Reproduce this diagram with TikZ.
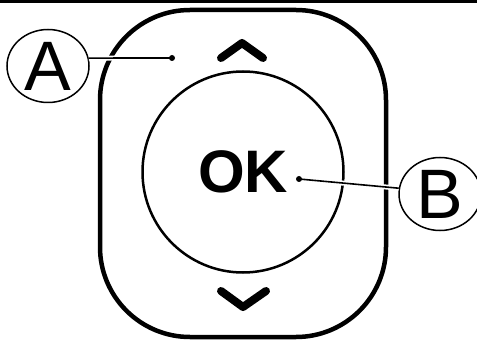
\documentclass[tikz,border=0pt]{standalone}
\usepackage{fontspec}
\setmainfont{Liberation Sans}
\usetikzlibrary{shapes.geometric}

\begin{document}
\begin{tikzpicture}[
  x=1pt, y=-1pt,
  padbox/.style={
    rectangle, rounded corners=90pt,
    draw=black, line width=4.5pt,
    minimum width=286pt, minimum height=327pt, inner sep=0pt
  },
  okbutton/.style={
    circle, draw=black, line width=2.5pt,
    minimum size=201pt, inner sep=0pt,
    font=\fontsize{60}{60}\selectfont\bfseries
  },
  callout/.style={
    ellipse, draw=black, line width=1.5pt,
    minimum width=82pt, minimum height=73pt, inner sep=0pt,
    font=\fontsize{70}{70}\selectfont
  },
  chevron/.style={
    line width=8pt, line cap=round, line join=round
  },
  leader/.style={
    line width=1.6pt,
    preaction={draw=white, line width=5pt}
  },
]
\useasboundingbox (0,0) rectangle (477,342);

% --- Top bar ---
\fill[black] (0,0) rectangle (477,3);

% --- Nodes ---
\node[padbox] (pad) at (243,173.5) {};
\node[okbutton] (ok) at (243,172) {OK};

\node[callout] (labA) at (48,66) {A};
\node[callout] (labB) at (440,194) {B};

\coordinate (dotA) at (172,58);
\coordinate (dotB) at (299,179);

% --- Arrow keys ---
\coordinate (upL) at (221,58);
\coordinate (upT) at (242,43);
\coordinate (upR) at (263,58);
\draw[chevron] (upL) -- (upT) -- (upR);

\coordinate (dnL) at (221,291);
\coordinate (dnB) at (243,307);
\coordinate (dnR) at (266,291);
\draw[chevron] (dnL) -- (dnB) -- (dnR);

% --- Leaders ---
\draw[leader] (labA.11) -- (dotA);
\fill (dotA) circle (3pt);

\draw[leader] (labB.172) -- (dotB);
\fill (dotB) circle (3pt);

\end{tikzpicture}
\end{document}
